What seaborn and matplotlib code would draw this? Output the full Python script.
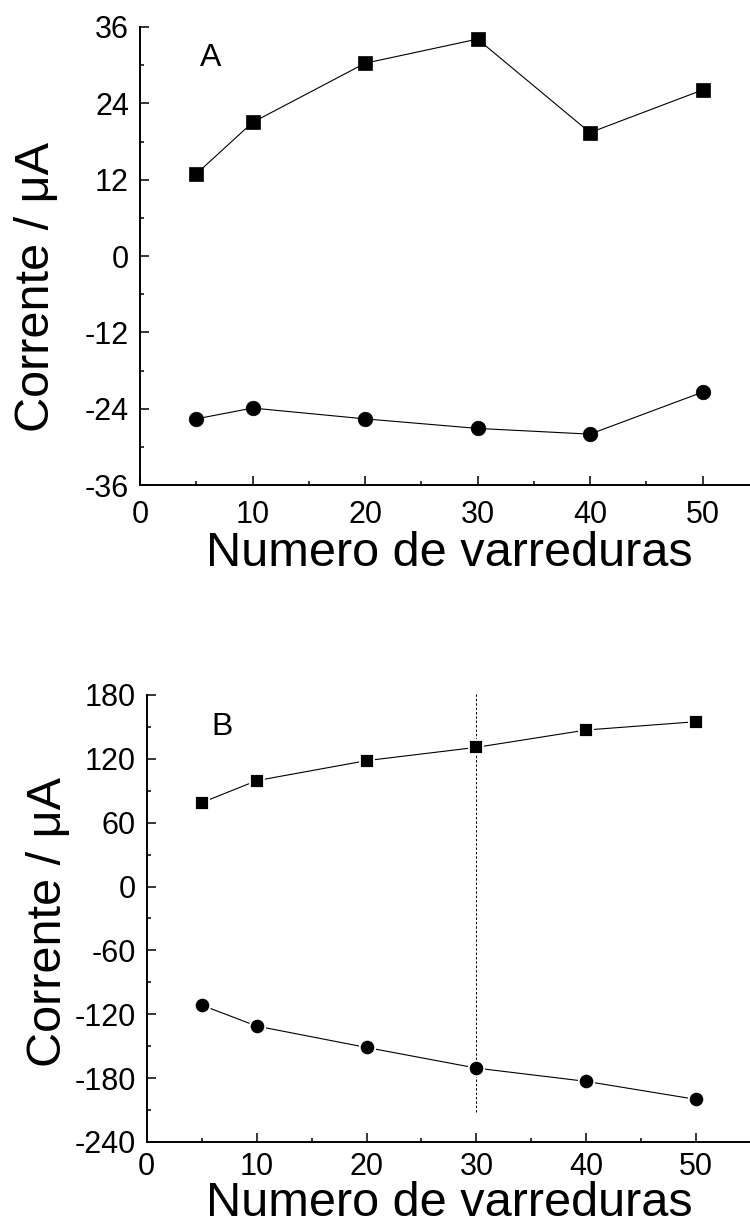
import matplotlib
matplotlib.use("Agg")
import matplotlib.pyplot as plt
from matplotlib.ticker import MultipleLocator
import pandas as pd
import seaborn as sns

# Number of voltammetric scans
varreduras = [5, 10, 20, 30, 40, 50]

# Panel A: anodic (squares) and cathodic (circles) peak currents, uA
anodica_A = [12.9, 21.0, 30.3, 34.1, 19.4, 26.1]
catodica_A = [-25.6, -23.9, -25.6, -27.1, -28.0, -21.4]

# Panel B: anodic (squares) and cathodic (circles) peak currents, uA
anodica_B = [78.8, 99.5, 118.3, 130.8, 147.1, 154.9]
catodica_B = [-111.4, -131.1, -151.2, -170.6, -183.1, -200.0]

# Reference line in panel B (chosen number of scans)
ref_x = 30
ref_y_range = (-212, 183)

df_A = pd.DataFrame({"varreduras": varreduras, "anodica": anodica_A, "catodica": catodica_A})
df_B = pd.DataFrame({"varreduras": varreduras, "anodica": anodica_B, "catodica": catodica_B})

sns.set_theme(style="ticks")
plt.rcParams["font.family"] = ["Liberation Sans", "DejaVu Sans"]
plt.rcParams["axes.unicode_minus"] = False

fig = plt.figure(figsize=(7.5, 12.27), dpi=100)
axA = fig.add_axes([0.1867, 0.6047, 0.825, 0.3733])
axB = fig.add_axes([0.1956, 0.0693, 0.806, 0.3643])

TICK_FS = 22
LABEL_FS = 35


def draw_series(ax, df, gap):
    edge = "white" if gap else "black"
    ew = 1.3 if gap else 0.5
    sq = 9.2 + ew if gap else 10.0
    ci = 9.8 + ew if gap else 10.5
    sns.lineplot(data=df, x="varreduras", y="anodica", ax=ax, color="black",
                 linewidth=0.8, marker="s", markersize=sq,
                 markeredgecolor=edge, markeredgewidth=ew, markerfacecolor="black",
                 zorder=3)
    sns.lineplot(data=df, x="varreduras", y="catodica", ax=ax, color="black",
                 linewidth=0.8, marker="o", markersize=ci,
                 markeredgecolor=edge, markeredgewidth=ew, markerfacecolor="black",
                 zorder=3)


def style_axes(ax, ylim, ymajor, yminor, label_x, label_y, xlabel_y, xpad):
    ax.set_xlim(0, 55)
    ax.set_ylim(*ylim)
    ax.xaxis.set_major_locator(MultipleLocator(10))
    ax.xaxis.set_minor_locator(MultipleLocator(5))
    ax.yaxis.set_major_locator(MultipleLocator(ymajor))
    ax.yaxis.set_minor_locator(MultipleLocator(yminor))
    for side in ("top", "right"):
        ax.spines[side].set_visible(False)
    for side in ("left", "bottom"):
        ax.spines[side].set_linewidth(1.4)
        ax.spines[side].set_color("black")
    ax.tick_params(axis="both", which="major", direction="in", length=6.5,
                   width=1.1, color="black", labelsize=TICK_FS, labelcolor="black")
    ax.tick_params(axis="both", which="minor", direction="in", length=3.2,
                   width=1.1, color="black")
    ax.tick_params(axis="x", which="major", pad=xpad)
    ax.tick_params(axis="y", which="major", pad=8)
    ax.set_xlabel("Numero de varreduras", fontsize=LABEL_FS, color="black")
    ax.set_ylabel("Corrente / μA", fontsize=LABEL_FS, color="black", va="center")
    ax.xaxis.set_label_coords(0.5, xlabel_y)
    ax.yaxis.set_label_coords(label_x, label_y)
    ax.set_facecolor("white")


draw_series(axA, df_A, gap=False)
style_axes(axA, (-36, 36), 12, 6, -0.168, 0.433, -0.100, 11)
axA.text(5.3, 31.1, "A", fontsize=23, ha="left", va="center", color="black")

draw_series(axB, df_B, gap=True)
axB.vlines(ref_x, ref_y_range[0], ref_y_range[1], colors="black",
           linestyles=(0, (2.5, 2)), linewidth=0.7, clip_on=False, zorder=2)
style_axes(axB, (-240, 180), 60, 30, -0.163, 0.492, -0.0875, 7)
axB.text(5.85, 150, "B", fontsize=23, ha="left", va="center", color="black")

fig.savefig("out.png", dpi=100, facecolor="white")
